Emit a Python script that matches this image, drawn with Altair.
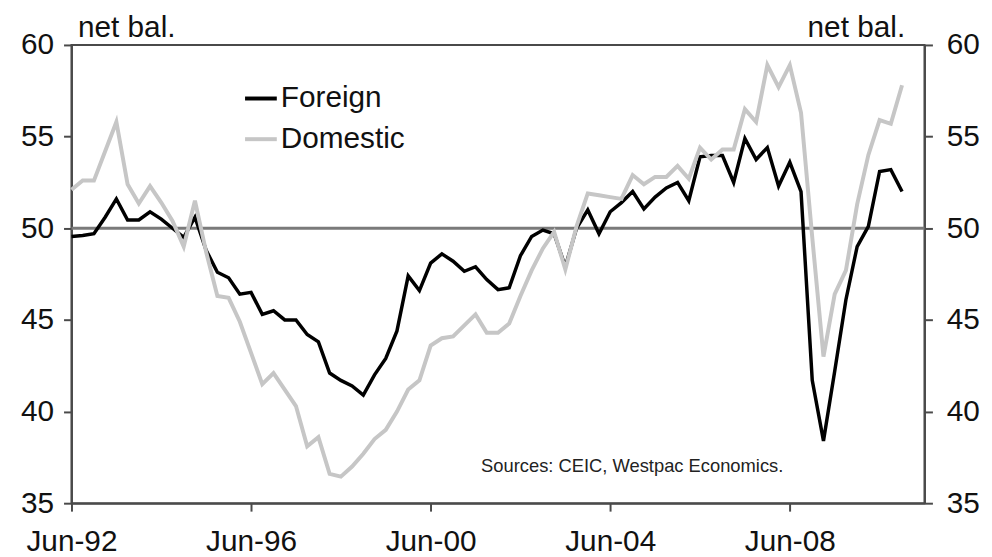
import altair as alt
import pandas as pd

# Quarterly data, Jun-92 onwards (net balance)
first_quarter = 1992.5  # Jun-92
foreign = [49.55, 49.6, 49.7, 50.6, 51.6, 50.45, 50.45, 50.9, 50.5, 50.0,
           49.5, 50.6, 48.8, 47.6, 47.3, 46.4, 46.5, 45.3, 45.5, 45.0,
           45.0, 44.2, 43.8, 42.1, 41.7, 41.4, 40.9, 42.0, 42.9, 44.4,
           47.4, 46.6, 48.1, 48.6, 48.2, 47.65, 47.9, 47.2, 46.65, 46.75,
           48.5, 49.55, 49.9, 49.7, 47.9, 50.0, 51.0, 49.7, 50.9, 51.4,
           52.0, 51.05, 51.7, 52.2, 52.5, 51.5, 53.9, 53.97, 53.97, 52.5,
           54.9, 53.75, 54.4, 52.3, 53.6, 52.0, 41.7, 38.4, 42.2, 46.1,
           49.0, 50.1, 53.1, 53.2, 52.0]
domestic = [52.1, 52.6, 52.6, 54.2, 55.8, 52.4, 51.35, 52.3, 51.4, 50.4,
            49.0, 51.5, 48.7, 46.3, 46.2, 44.9, 43.2, 41.5, 42.1, 41.2,
            40.3, 38.1, 38.6, 36.6, 36.45, 37.0, 37.7, 38.5, 39.0, 40.0,
            41.2, 41.7, 43.6, 44.0, 44.1, 44.7, 45.3, 44.3, 44.3, 44.8,
            46.3, 47.7, 48.9, 49.8, 47.75, 50.1, 51.9, 51.8, 51.7, 51.6,
            52.9, 52.4, 52.8, 52.8, 53.4, 52.7, 54.4, 53.75, 54.3, 54.3,
            56.5, 55.8, 58.9, 57.7, 58.9, 56.3, 49.5, 43.0, 46.4, 47.7,
            51.3, 54.0, 55.9, 55.7, 57.8]
series_names = ["Foreign", "Domestic"]
y_ticks = [35, 40, 45, 50, 55, 60]
x_ticks = [1992.5, 1996.5, 2000.5, 2004.5, 2008.5]  # Jun-92 ... Jun-08
reference_level = [50]
source_note = ["Sources: CEIC, Westpac Economics."]

n = len(foreign)
t = [first_quarter + 0.25 * i for i in range(n)]
df = pd.DataFrame({
    "t": t + t,
    "value": foreign + domestic,
    "series": [series_names[0]] * n + [series_names[1]] * n,
})

FONT = "Liberation Sans"
AX = "#4a4a4a"

y_scale = alt.Scale(domain=[35, 60], nice=False, zero=False)
x_scale = alt.Scale(domain=[1992.5, 2011.5], nice=False, zero=False)

x_enc = alt.X(
    "t:Q", scale=x_scale,
    axis=alt.Axis(values=x_ticks, title=None, grid=False, tickSize=8,
                  labelPadding=16, labelFlush=False,
                  labelExpr="'Jun-' + slice('0' + (floor(datum.value) % 100), -2)"),
)

color_enc = alt.Color(
    "series:N",
    scale=alt.Scale(domain=series_names, range=["#000000", "#c6c6c6"]),
    legend=alt.Legend(title=None, orient="none", legendX=173, legendY=36,
                      symbolType="stroke", symbolSize=1024, symbolStrokeWidth=4,
                      labelFontSize=30, labelOffset=2, rowPadding=8, padding=0),
)

left_axis = alt.Axis(values=y_ticks, orient="left", title="net bal.", titleAngle=0,
                     titleAlign="left", titleX=6, titleY=-9, titleBaseline="alphabetic",
                     grid=False, tickSize=8, labelPadding=10, format="d")
right_axis = alt.Axis(values=y_ticks, orient="right", title="net bal.", titleAngle=0,
                      titleAlign="right", titleX=-20, titleY=-9, titleBaseline="alphabetic",
                      grid=False, tickSize=8, labelPadding=14, format="d")

rule = alt.Chart(pd.DataFrame({"v": reference_level})).mark_rule(
    color="#7a7a7a", strokeWidth=3
).encode(y=alt.Y("v:Q", scale=y_scale, axis=left_axis))

foreign_line = alt.Chart(df).transform_filter("datum.series == 'Foreign'").mark_line(
    strokeWidth=3.5
).encode(x=x_enc, y=alt.Y("value:Q", scale=y_scale, axis=None), color=color_enc)

domestic_line = alt.Chart(df).transform_filter("datum.series == 'Domestic'").mark_line(
    strokeWidth=4
).encode(x=x_enc, y=alt.Y("value:Q", scale=y_scale, axis=right_axis), color=color_enc)

note = alt.Chart(pd.DataFrame({"s": source_note})).mark_text(
    align="left", baseline="alphabetic", fontSize=18.5, font=FONT, color="#222222"
).encode(text="s:N", x=alt.value(413), y=alt.value(431))

chart = alt.layer(rule, foreign_line, domestic_line, note).resolve_scale(
    y="independent"
).properties(
    width=860, height=462,
    padding={"left": 64, "top": 35, "right": 60, "bottom": 52},
    autosize=alt.AutoSizeParams(type="none"),
).configure_view(
    stroke=AX, strokeWidth=2
).configure_axis(
    domainColor=AX, domainWidth=2, tickColor=AX, tickWidth=2,
    labelFont=FONT, labelFontSize=30, labelColor="#111111",
    titleFont=FONT, titleFontSize=30, titleFontWeight="normal", titleColor="#111111",
).configure_legend(
    labelFont=FONT, labelColor="#111111"
)

chart.save("out.html", embed_options={"renderer": "svg", "actions": False})
